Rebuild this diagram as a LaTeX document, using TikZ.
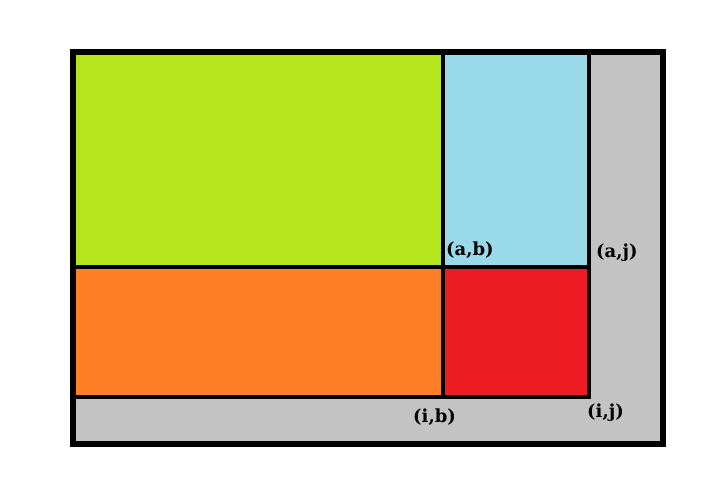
\documentclass[tikz,border=0pt]{standalone}
\usepackage{fontspec}
\setmainfont{DejaVu Serif}
\usepackage{xcolor}
\definecolor{mygreen}{HTML}{B5E61D}
\definecolor{myblue}{HTML}{99D9EA}
\definecolor{myorange}{HTML}{FF7F27}
\definecolor{myred}{HTML}{ED1C24}
\definecolor{mygray}{HTML}{C3C3C3}
\tikzset{corner/.style={font=\bfseries\fontsize{18}{21}\selectfont, inner sep=0pt, anchor=west}}

\begin{document}
\begin{tikzpicture}[x=1pt,y=-1pt]
      \useasboundingbox (0,0) rectangle (728,496);
      \coordinate (tl) at (73,52);
      \coordinate (br) at (663,444);
      \coordinate (ab) at (443,267);
      \coordinate (ij) at (589,397);
      \fill[mygray] (tl) rectangle (br);
      \fill[mygreen] (tl) rectangle (ab);
      \fill[myblue] (ab |- tl) rectangle (ij |- ab);
      \fill[myorange] (tl |- ab) rectangle (ab |- ij);
      \fill[myred] (ab) rectangle (ij);
      \draw[line width=4.5pt] (tl |- ab) -- (ij |- ab) (ab |- tl) -- (ab |- ij)
        (tl |- ij) -- (ij) -- (ij |- tl);
      \draw[line width=5.5pt] (tl) rectangle (br);
      \node[corner] (lab) at (446,250) {(a,b)};
      \node[corner] (laj) at (596,253) {(a,j)};
      \node[corner] (lib) at (413,417) {(i,b)};
      \node[corner] (lij) at (587,413) {(i,j)};
    \end{tikzpicture}
\end{document}
